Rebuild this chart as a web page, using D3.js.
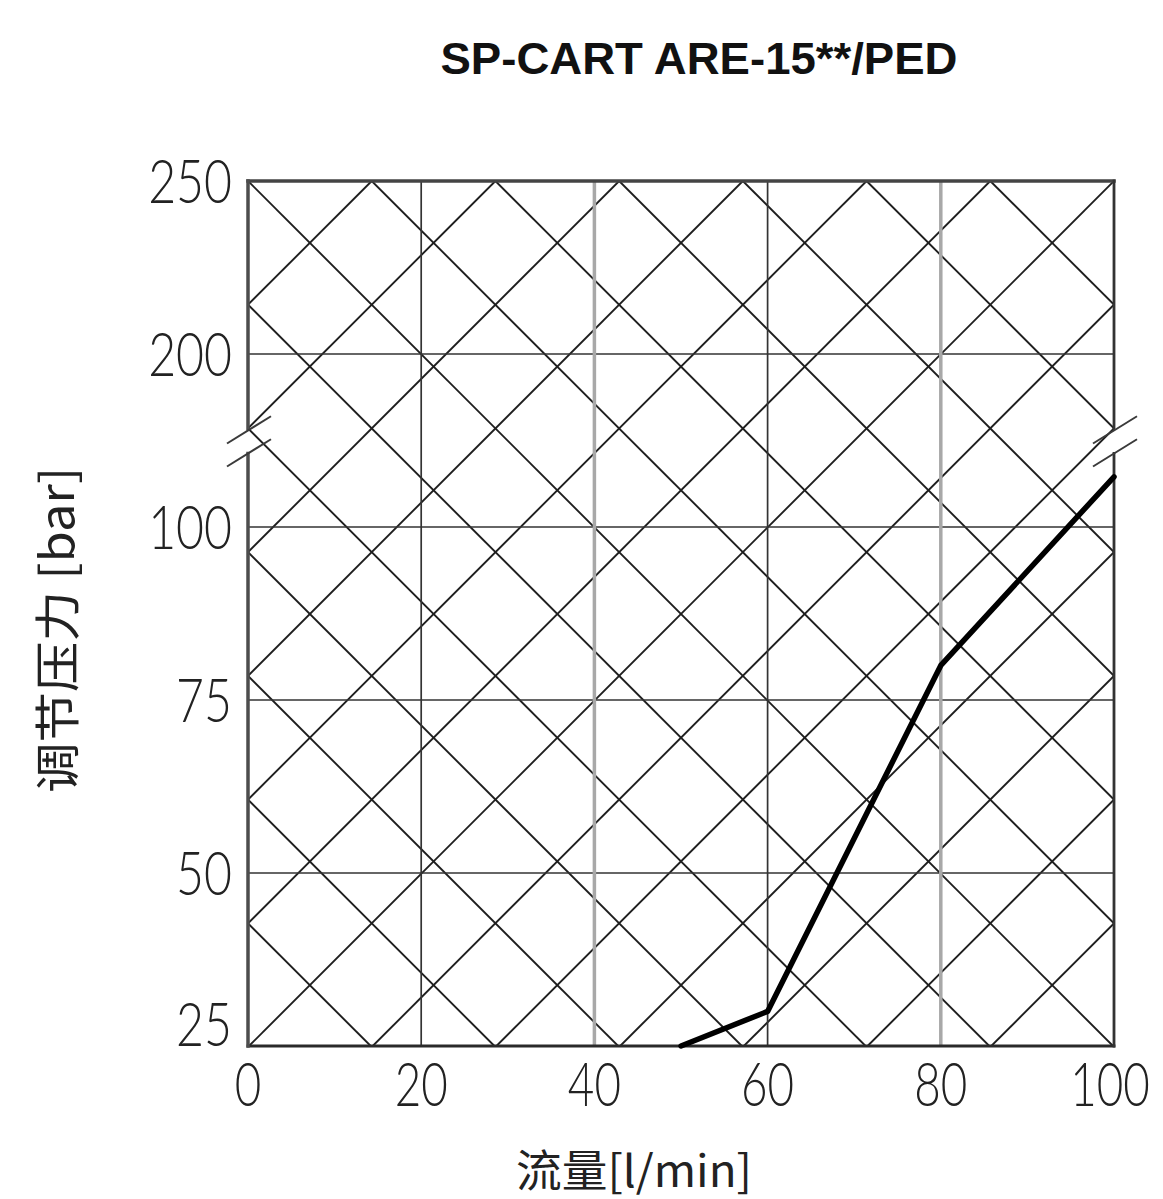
<!DOCTYPE html>
<html>
<head>
<meta charset="utf-8">
<script src="https://cdn.jsdelivr.net/npm/d3@7"></script>
<style>
  html, body { margin: 0; padding: 0; background: #fff; }
  svg { display: block; }
</style>
</head>
<body>
<script>
// ---- data ----
const flow = [50, 60, 80, 100];            // l/min
const pressure = [25, 30, 80, 129];        // bar
const xTicks = [0, 20, 40, 60, 80, 100];
const yTicks = [25, 50, 75, 100, 200, 250];
const gridXDark = [20, 60];
const gridXLight = [40, 80];
const gridY = [50, 75, 100, 200];
const chartTitle = "SP-CART ARE-15**/PED";
const xLabel = "流量[l/min]";
const yLabel = "调节压力 [bar]";

// ---- layout ----
const W = 1163, H = 1199;
const pL = 248, pR = 1114, pT = 181, pB = 1046;

const svg = d3.select("body").append("svg").attr("width", W).attr("height", H);

const x = d3.scaleLinear().domain([0, 100]).range([pL, pR]);
const band = (pB - pT) / (yTicks.length - 1);
const y = d3.scaleLinear().domain(yTicks).range(yTicks.map((d, i) => pB - i * band));

// clip
svg.append("defs").append("clipPath").attr("id", "plot")
  .append("rect").attr("x", pL).attr("y", pT).attr("width", pR - pL).attr("height", pB - pT);

// ---- diagonal hatching ----
const hatch = svg.append("g").attr("clip-path", "url(#plot)");
const stepData = 100 / 7;
const span = pB - pT;
d3.range(-7, 15).forEach(k => {
  const x0 = x(k * stepData);
  hatch.append("line").attr("x1", x0).attr("y1", pT).attr("x2", x0 + span).attr("y2", pT + span)
    .attr("stroke", "#1e1e1e").attr("stroke-width", 1.9);
  hatch.append("line").attr("x1", x0).attr("y1", pT).attr("x2", x0 - span).attr("y2", pT + span)
    .attr("stroke", "#1e1e1e").attr("stroke-width", 1.9);
});

// ---- grid ----
const grid = svg.append("g");
grid.selectAll(".gy").data(gridY).enter().append("line")
  .attr("x1", pL).attr("x2", pR).attr("y1", d => y(d)).attr("y2", d => y(d))
  .attr("stroke", "#333").attr("stroke-width", 1.6);
grid.selectAll(".gxd").data(gridXDark).enter().append("line")
  .attr("x1", d => x(d)).attr("x2", d => x(d)).attr("y1", pT).attr("y2", pB)
  .attr("stroke", "#333").attr("stroke-width", 1.7);
grid.selectAll(".gxl").data(gridXLight).enter().append("line")
  .attr("x1", d => x(d)).attr("x2", d => x(d)).attr("y1", pT).attr("y2", pB)
  .attr("stroke", "#a8a8a8").attr("stroke-width", 3.5);

// ---- frame with axis break ----
const breakMid = (y(100) + y(200)) / 2;
const gapTop = breakMid - 12, gapBot = breakMid + 13;
const frame = svg.append("g").attr("stroke-linecap", "square");
frame.append("line").attr("x1", pL).attr("x2", pR).attr("y1", pT).attr("y2", pT)
  .attr("stroke", "#444").attr("stroke-width", 3.5);
frame.append("line").attr("x1", pL).attr("x2", pR).attr("y1", pB).attr("y2", pB)
  .attr("stroke", "#2a2a2a").attr("stroke-width", 2.8);
[[pT, gapTop], [gapBot, pB]].forEach(([a, b]) => {
  frame.append("line").attr("x1", pL).attr("x2", pL).attr("y1", a).attr("y2", b)
    .attr("stroke", "#4d4d4d").attr("stroke-width", 3.5);
  frame.append("line").attr("x1", pR).attr("x2", pR).attr("y1", a).attr("y2", b)
    .attr("stroke", "#333").attr("stroke-width", 2.8);
});
const slope = -0.62;
[pL, pR].forEach(ex => {
  [gapTop + 2, gapBot].forEach(yy => {
    frame.append("line")
      .attr("x1", ex - 21).attr("y1", yy - 21 * slope)
      .attr("x2", ex + 23).attr("y2", yy + 23 * slope)
      .attr("stroke", "#3a3a3a").attr("stroke-width", 2).attr("stroke-linecap", "butt");
  });
});

// ---- curve ----
const pts = flow.map((f, i) => [f, pressure[i]]);
svg.append("path")
  .attr("d", d3.line().x(d => x(d[0])).y(d => y(d[1]))(pts))
  .attr("fill", "none").attr("stroke", "#000").attr("stroke-width", 5.5)
  .attr("stroke-linejoin", "round").attr("stroke-linecap", "round");

// ---- tick labels (horizontally condensed) ----
const tickFont = "Lato, 'Liberation Sans', sans-serif";
const sx = 0.79;
svg.append("g").selectAll("text").data(yTicks).enter().append("text")
  .attr("transform", d => `translate(232,${d === 25 ? pB : y(d) + 22}) scale(${sx},1)`)
  .attr("text-anchor", "end")
  .attr("font-family", tickFont).attr("font-weight", 300).attr("font-size", 61)
  .attr("fill", "#222")
  .text(d => d);

svg.append("g").selectAll("text").data(xTicks).enter().append("text")
  .attr("transform", d => `translate(${d === 100 ? x(d) - 4 : x(d)},1106) scale(${sx * 0.95},1)`)
  .attr("text-anchor", "middle")
  .attr("font-family", tickFont).attr("font-weight", 300).attr("font-size", 61)
  .attr("fill", "#222")
  .text(d => d);

// ---- titles ----
svg.append("text")
  .attr("x", 699).attr("y", 74)
  .attr("text-anchor", "middle")
  .attr("font-family", "'Liberation Sans', Arial, sans-serif").attr("font-weight", "bold").attr("font-size", 45)
  .attr("fill", "#111")
  .attr("textLength", 517).attr("lengthAdjust", "spacingAndGlyphs")
  .text(chartTitle);

svg.append("text")
  .attr("x", 634).attr("y", 1168)
  .attr("text-anchor", "middle").attr("dominant-baseline", "central")
  .attr("font-family", "'Noto Sans CJK SC', sans-serif").attr("font-size", 44)
  .attr("fill", "#222")
  .attr("textLength", 236).attr("lengthAdjust", "spacingAndGlyphs")
  .text(xLabel);

svg.append("text")
  .attr("transform", "translate(54,630) rotate(-90)")
  .attr("text-anchor", "middle").attr("dominant-baseline", "central")
  .attr("font-family", "'Noto Sans CJK SC', sans-serif").attr("font-size", 46)
  .attr("fill", "#222")
  .attr("textLength", 326).attr("lengthAdjust", "spacingAndGlyphs")
  .text(yLabel);
</script>
</body>
</html>
